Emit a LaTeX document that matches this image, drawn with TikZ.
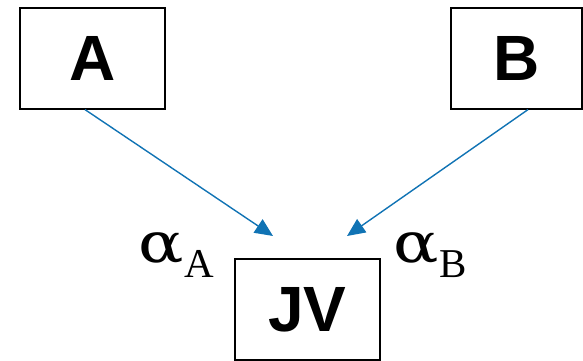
\documentclass[tikz,border=0pt]{standalone}
\usepackage{fontspec}
\setmainfont{Liberation Serif}
\newfontfamily\arialfont{Liberation Sans}
\newfontfamily\greekfont{DejaVu Serif}
\usetikzlibrary{arrows.meta}
\definecolor{arrblue}{RGB}{16,115,180}
\tikzset{
  box/.style={draw=black, line width=1.2pt, fill=white, inner sep=0pt, font=\arialfont\bfseries\fontsize{64}{64}\selectfont},
  arr/.style={draw=arrblue, line width=1.4pt, -{Triangle[length=18pt,width=16pt]}},
  lbl/.style={inner sep=0pt, anchor=base west}
}
\newcommand{\alphalbl}[1]{{\greekfont\fontsize{56}{56}\selectfont\scalebox{1.2}[1]{α}}\kern1pt\raisebox{-15pt}{\fontsize{41}{41}\selectfont #1}}
\begin{document}
\begin{tikzpicture}[x=1pt,y=-1pt]
\useasboundingbox (0,0) rectangle (583,361);
\node[box, minimum width=145pt, minimum height=101pt] (A) at (92.5,58.5) {A};
\node[box, minimum width=131pt, minimum height=101pt] (B) at (516.5,58.5) {B};
\node[box, minimum width=145pt, minimum height=101pt] (JV) at (307.5,309.5) {JV};
\coordinate (tA) at (273,236);
\coordinate (tB) at (347,236);
\draw[arr] ([xshift=-7.5pt]A.south) -- (tA);
\draw[arr] ([xshift=11.5pt]B.south) -- (tB);
\node[lbl] (aA) at (138,262) {\alphalbl{A}};
\node[lbl] (aB) at (393,262) {\alphalbl{B}};
\end{tikzpicture}
\end{document}
